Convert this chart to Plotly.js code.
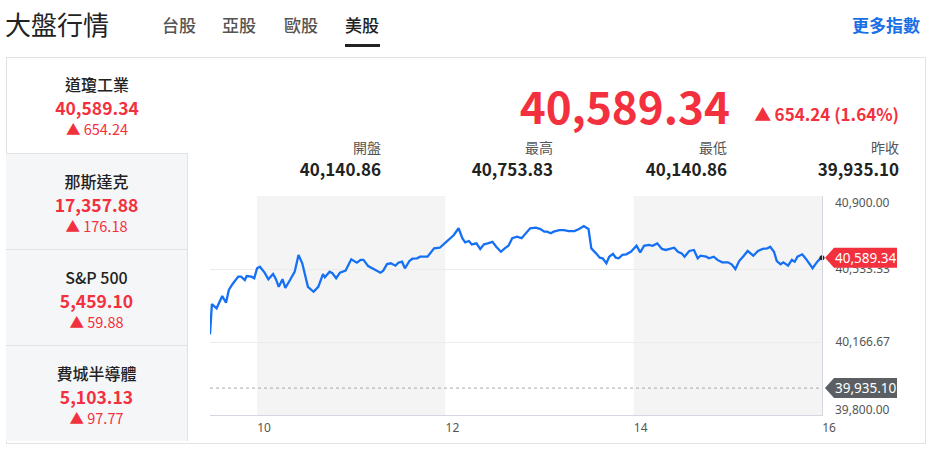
<!DOCTYPE html>
<html>
<head>
<meta charset="utf-8">
<script src="https://cdn.plot.ly/plotly-3.0.1.min.js"></script>
<style>
    body { margin: 0; width: 931px; height: 452px; overflow: hidden; position: relative; background: #fff;
           font-family: "Noto Sans CJK TC", "Noto Sans", sans-serif; color: #222; }
    .abs { position: absolute; white-space: nowrap; }
    .up { color: #f3303d; }
    #card { position: absolute; left: 6px; top: 57px; width: 918px; height: 385px; border: 1px solid #e2e2e2; }
    .item { position: absolute; left: 6px; width: 182px; height: 96px; text-align: center; }
    .item.off { background: #f5f6f8; border-top: 1px solid #e2e2e2; border-right: 1px solid #e2e2e2; box-sizing: border-box; }
    .item .nm { position: absolute; left: 0; right: 0; top: 15px; font-size: 16px; line-height: 24px; font-weight: 500; }
    .item .vl { position: absolute; left: 0; right: 0; top: 39px; font-size: 17.5px; line-height: 24px; font-weight: 700; }
    .item .ch { position: absolute; left: 0; right: 0; top: 61px; font-size: 14.5px; line-height: 22px; }
    .stat { text-align: right; width: 160px; }
    .stat .lb { font-size: 14px; color: #555; line-height: 20px; }
    .stat .nv { font-size: 17px; font-weight: 700; line-height: 24px; color: #222; }
    #plot { position: absolute; left: 200px; top: 185px; width: 720px; height: 260px; }
</style>
</head>
<body>
<div id="card"></div>
<div class="abs" style="left:5px;top:6px;font-size:26px;line-height:36px;">大盤行情</div>
<div id="tabs"></div>
<div class="abs" style="left:852px;top:13px;font-size:17px;line-height:24px;font-weight:700;color:#1a6fe6;">更多指數</div>
<div id="items"></div>
<div class="abs up" style="right:201px;top:79px;font-size:44px;line-height:52px;font-weight:700;">40,589.34</div>
<div class="abs up" style="right:32px;top:102px;font-size:17px;line-height:24px;font-weight:700;">▲&thinsp;654.24 (1.64%)</div>
<div id="stats"></div>
<div id="plot"></div>
<script>
    const tabNames = ['台股', '亞股', '歐股', '美股'];
    const tabLefts = [162, 222, 284, 345];

    const indexNames = ['道瓊工業', '那斯達克', 'S&P 500', '費城半導體'];
    const indexValues = ['40,589.34', '17,357.88', '5,459.10', '5,103.13'];
    const indexChanges = ['654.24', '176.18', '59.88', '97.77'];

    const statLabels = ['開盤', '最高', '最低', '昨收'];
    const statValues = ['40,140.86', '40,753.83', '40,140.86', '39,935.10'];
    const statRights = [381, 553, 727, 899];

    const lastPrice = 40589.34;
    const prevClose = 39935.10;

    // intraday time (hours) and index level
    const times = [
        9.50, 9.52, 9.57, 9.63, 9.67, 9.70, 9.74, 9.80, 9.83, 9.87, 9.89, 9.94, 9.97,
        10.00, 10.03, 10.08, 10.12, 10.17, 10.20, 10.23, 10.27, 10.30, 10.35, 10.40, 10.44, 10.48,
        10.54, 10.60, 10.65, 10.70, 10.72, 10.77, 10.80, 10.84, 10.88, 10.94, 11.00, 11.06, 11.10,
        11.13, 11.18, 11.25, 11.31, 11.34, 11.38, 11.42, 11.47, 11.50, 11.54, 11.57, 11.62, 11.65,
        11.70, 11.73, 11.81, 11.88, 11.94, 11.98, 12.04, 12.09, 12.14, 12.18, 12.21, 12.25, 12.28,
        12.33, 12.37, 12.41, 12.45, 12.50, 12.54, 12.59, 12.63, 12.67, 12.71, 12.76, 12.81, 12.85,
        12.90, 12.96, 13.01, 13.05, 13.08, 13.12, 13.15, 13.21, 13.26, 13.31, 13.37, 13.42, 13.47,
        13.52, 13.55, 13.60, 13.64, 13.67, 13.71, 13.74, 13.78, 13.81, 13.84, 13.88, 13.92, 13.97,
        14.03, 14.07, 14.11, 14.16, 14.20, 14.25, 14.30, 14.34, 14.39, 14.43, 14.47, 14.51, 14.54,
        14.59, 14.64, 14.68, 14.71, 14.77, 14.80, 14.85, 14.89, 14.94, 15.00, 15.04, 15.08, 15.12,
        15.17, 15.21, 15.27, 15.32, 15.37, 15.42, 15.45, 15.49, 15.52, 15.56, 15.59, 15.64, 15.68,
        15.71, 15.74, 15.79, 15.83, 15.87, 15.90, 15.95, 15.99, 16.00
    ];
    const values = [
        40205, 40357, 40336, 40398, 40364, 40428, 40458, 40495, 40495, 40478, 40498, 40495, 40487,
        40537, 40545, 40515, 40482, 40508, 40482, 40444, 40482, 40439, 40478, 40520, 40604, 40562,
        40444, 40419, 40444, 40508, 40492, 40520, 40512, 40487, 40515, 40525, 40582, 40565, 40579,
        40579, 40548, 40528, 40515, 40525, 40558, 40562, 40550, 40565, 40570, 40537, 40575, 40585,
        40587, 40595, 40595, 40637, 40640, 40657, 40684, 40704, 40738, 40688, 40667, 40674, 40657,
        40662, 40634, 40657, 40662, 40670, 40645, 40620, 40637, 40650, 40688, 40696, 40688, 40713,
        40738, 40741, 40734, 40721, 40721, 40713, 40721, 40729, 40729, 40724, 40724, 40734, 40749,
        40734, 40637, 40612, 40590, 40587, 40562, 40595, 40609, 40590, 40587, 40604, 40607, 40620,
        40650, 40617, 40650, 40654, 40650, 40662, 40634, 40629, 40637, 40640, 40620, 40612, 40595,
        40624, 40629, 40587, 40600, 40595, 40587, 40595, 40579, 40567, 40567, 40557, 40533, 40573,
        40600, 40624, 40600, 40624, 40634, 40637, 40645, 40620, 40573, 40557, 40567, 40550, 40579,
        40570, 40595, 40607, 40584, 40553, 40537, 40570, 40590, 40589.34
    ];

    const xTicks = [10, 12, 14, 16];
    const yTicks = [39800, 40166.67, 40533.33, 40900];
    const shadeBands = [[10, 12], [14, 16]];

    const RED = '#f3303d';
    const fmt = v => v.toLocaleString('en-US', { minimumFractionDigits: 2, maximumFractionDigits: 2 });

    // header tabs
    let html = '';
    tabNames.forEach((t, i) => {
        const on = i === tabNames.length - 1;
        html += `<div class="abs" style="left:${tabLefts[i]}px;top:13px;font-size:17px;line-height:24px;font-weight:500;color:${on ? '#222' : '#555'}">${t}</div>`;
        if (on) html += `<div class="abs" style="left:${tabLefts[i]}px;top:44px;width:35px;height:3px;background:#222"></div>`;
    });
    document.getElementById('tabs').innerHTML = html;

    // left list
    html = '';
    indexNames.forEach((n, i) => {
        html += `<div class="item${i ? ' off' : ''}" style="top:${57 + 96 * i}px">
            <div class="nm">${n.replace('&', '&amp;')}</div>
            <div class="vl up">${indexValues[i]}</div>
            <div class="ch up">▲ ${indexChanges[i]}</div></div>`;
    });
    document.getElementById('items').innerHTML = html;

    // open / high / low / prev close
    html = '';
    statLabels.forEach((l, i) => {
        html += `<div class="abs stat" style="left:${statRights[i] - 160}px;top:137px">
            <div class="lb">${l}</div><div class="nv">${statValues[i]}</div></div>`;
    });
    document.getElementById('stats').innerHTML = html;

    const tagPath = 'M3,0 L12,10 L75,10 L75,-10 L12,-10 Z';
    const tag = (y, color) => ({
        type: 'path', xref: 'paper', yref: 'y', xsizemode: 'pixel', ysizemode: 'pixel',
        xanchor: 1, yanchor: y, path: tagPath, fillcolor: color, line: { width: 0 }, layer: 'above'
    });
    const tagText = (y) => ({
        xref: 'paper', yref: 'y', x: 1, y: y, xanchor: 'center', xshift: 44, showarrow: false,
        text: fmt(y), font: { color: '#fff', size: 13.5 }
    });
    const edgeLabel = (y, shift) => ({
        xref: 'paper', yref: 'y', x: 1, y: y, xanchor: 'left', xshift: 11, yshift: shift, showarrow: false,
        text: fmt(y), font: { color: '#555', size: 12 }
    });

    const shapes = shadeBands.map(b => ({
        type: 'rect', xref: 'x', yref: 'paper', x0: b[0], x1: b[1], y0: 0, y1: 1,
        fillcolor: '#f4f4f4', line: { width: 0 }, layer: 'below'
    }));
    shapes.push({
        type: 'line', xref: 'paper', yref: 'y', x0: 0, x1: 1, y0: prevClose, y1: prevClose,
        line: { color: '#aaa', width: 1, dash: '3px,3px' }
    });
    shapes.push(tag(lastPrice, RED));
    shapes.push(tag(prevClose, '#5b5f64'));

    const data = [
        {
            x: times, y: values, type: 'scatter', mode: 'lines',
            line: { color: '#1570f5', width: 2.3 }, hoverinfo: 'skip'
        },
        {
            x: [times[times.length - 1]], y: [lastPrice], type: 'scatter', mode: 'markers',
            marker: { color: '#222', size: 5 }, cliponaxis: false, hoverinfo: 'skip'
        }
    ];

    const layout = {
        width: 720, height: 260,
        margin: { l: 10, r: 98, t: 11, b: 30 },
        paper_bgcolor: 'rgba(0,0,0,0)', plot_bgcolor: '#fff',
        showlegend: false,
        font: { family: '"Noto Sans", "Noto Sans CJK TC", sans-serif', color: '#555', size: 12 },
        xaxis: {
            range: [9.5, 16], tickvals: xTicks, ticktext: xTicks.map(String),
            showgrid: false, zeroline: false, showline: true, linecolor: '#d6d6e0', linewidth: 1,
            ticks: '', ticklabelshift: 7, ticklabelstandoff: 2, fixedrange: true
        },
        yaxis: {
            range: [39800, 40900], side: 'right', tickvals: yTicks,
            ticktext: yTicks.map((v, i) => (i === 0 || i === yTicks.length - 1) ? '' : fmt(v)),
            showgrid: true, gridcolor: '#ececec', zeroline: false,
            showline: true, linecolor: '#d6d6e0', linewidth: 1,
            ticks: '', ticklabelstandoff: 10, fixedrange: true
        },
        shapes: shapes,
        annotations: [
            edgeLabel(yTicks[yTicks.length - 1], -6),
            edgeLabel(yTicks[0], 6),
            tagText(lastPrice),
            tagText(prevClose)
        ]
    };

    Plotly.newPlot('plot', data, layout, { displayModeBar: false, staticPlot: true });
</script>
</body>
</html>
